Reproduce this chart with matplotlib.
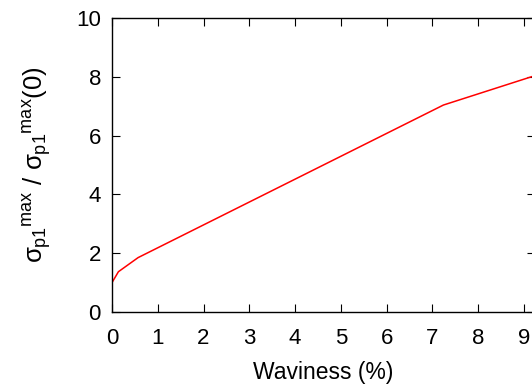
import matplotlib
matplotlib.use("Agg")
import matplotlib.pyplot as plt

waviness = [0.0, 0.14, 0.57, 7.24, 9.22]
ratio = [1.0, 1.37, 1.85, 7.04, 8.03]
xticks = [0, 1, 2, 3, 4, 5, 6, 7, 8, 9]
yticks = [0, 2, 4, 6, 8, 10]

plt.rcParams['font.family'] = ['Liberation Sans', 'DejaVu Sans']
plt.rcParams['mathtext.fontset'] = 'custom'
plt.rcParams['mathtext.rm'] = 'Liberation Sans'
plt.rcParams['mathtext.it'] = 'Liberation Sans'
plt.rcParams['mathtext.bf'] = 'Liberation Sans:bold'

W, H = 532, 387
fig = plt.figure(figsize=(W / 100, H / 100), dpi=100)
left, right, bottom, top = 112, 535, 312, 18
ax = fig.add_axes([left / W, (H - bottom) / H, (right - left) / W, (bottom - top) / H])

ax.plot(waviness, ratio, color='#ff0000', lw=1.1)
ax.set_xlim(0, 9.24)
ax.set_ylim(0, 10)
ax.set_xticks(xticks)
ax.set_yticks(yticks)
ax.tick_params(direction='in', length=6, width=0.8, top=True, right=True, labelsize=16)
ax.tick_params(axis='x', pad=11.5)
ax.tick_params(axis='y', pad=8)
for s in ax.spines.values():
    s.set_linewidth(1.0)
ax.set_xlabel('Waviness (%)', fontsize=16.5, labelpad=9)
ax.set_ylabel(r'$\sigma_{\mathrm{p1}}{}^{\mathrm{max}}\ /\ \sigma_{\mathrm{p1}}{}^{\mathrm{max}}\mathrm{(0)}$',
              fontsize=18.5, labelpad=16)

fig.savefig('out.png', dpi=100)
